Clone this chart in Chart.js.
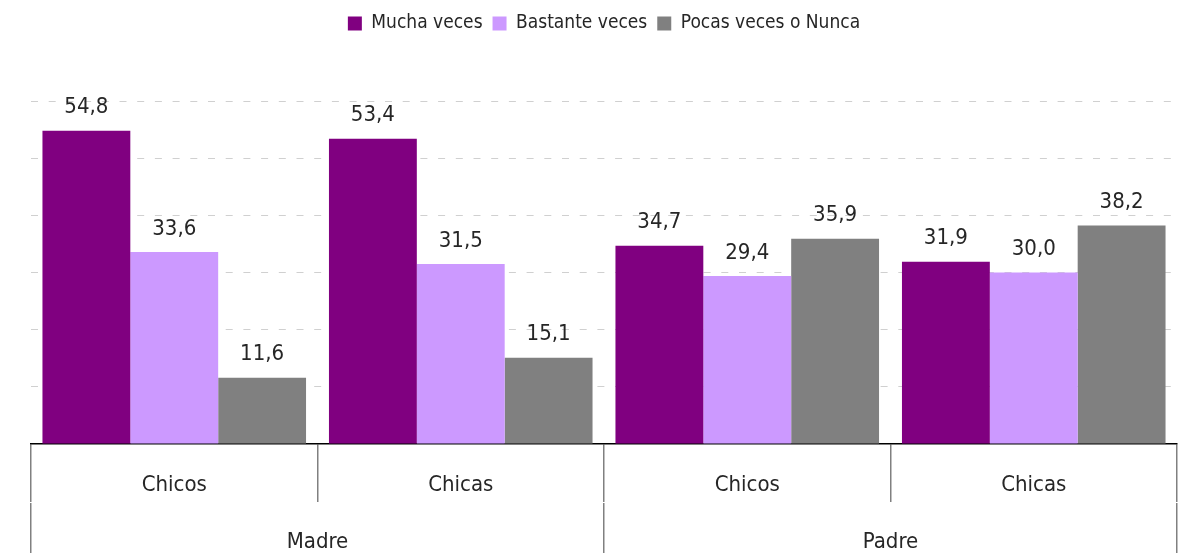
<!DOCTYPE html>
<html>
<head>
<meta charset="utf-8">
<script src="https://cdn.jsdelivr.net/npm/chart.js@4.4.1/dist/chart.umd.min.js"></script>
<style>
  html, body { margin: 0; padding: 0; background: #ffffff; }
  #wrap { width: 1192px; height: 553px; position: relative; }
</style>
</head>
<body>
<div id="wrap"><canvas id="c" width="1192" height="553"></canvas></div>
<script>
const categories = ['Chicos', 'Chicas', 'Chicos', 'Chicas'];
const groups = ['Madre', 'Padre'];
const seriesNames = ['Mucha veces', 'Bastante veces', 'Pocas veces o Nunca'];
const muchaVeces = [54.8, 53.4, 34.7, 31.9];
const bastanteVeces = [33.6, 31.5, 29.4, 30.0];
const pocasVeces = [11.6, 15.1, 35.9, 38.2];
const seriesColors = ['#800080', '#CC99FF', '#808080'];

const catFont = { family: '"DejaVu Sans Condensed", "DejaVu Sans", sans-serif', size: 22 };
const labelFont = '22px "Liberation Sans Narrow", "DejaVu Sans Condensed", sans-serif';

const legendSpace = {
  id: 'legendSpace',
  beforeLayout(chart) {
    const lg = chart.legend;
    if (lg && !lg._patched) {
      const f = lg.fit.bind(lg);
      lg.fit = function () { f(); this.height += 58; };
      lg._patched = true;
    }
  }
};

const valueLabels = {
  id: 'valueLabels',
  afterDatasetsDraw(chart) {
    const ctx = chart.ctx;
    ctx.save();
    ctx.font = labelFont;
    ctx.fillStyle = '#262626';
    ctx.textAlign = 'center';
    ctx.textBaseline = 'middle';
    chart.data.datasets.forEach((ds, i) => {
      chart.getDatasetMeta(i).data.forEach((bar, j) => {
        const txt = ds.data[j].toFixed(1).replace('.', ',');
        ctx.fillText(txt, bar.x, bar.y - 23);
      });
    });
    ctx.restore();
  }
};

new Chart(document.getElementById('c'), {
  type: 'bar',
  data: {
    labels: categories,
    datasets: [
      { label: seriesNames[0], data: muchaVeces, backgroundColor: seriesColors[0] },
      { label: seriesNames[1], data: bastanteVeces, backgroundColor: seriesColors[1] },
      { label: seriesNames[2], data: pocasVeces, backgroundColor: seriesColors[2] }
    ]
  },
  options: {
    responsive: false,
    animation: false,
    devicePixelRatio: 1,
    layout: { padding: { top: 4, left: 31, right: 15, bottom: 0 } },
    datasets: { bar: { categoryPercentage: 0.92, barPercentage: 1.0 } },
    plugins: {
      legend: {
        position: 'top',
        labels: {
          boxWidth: 14, boxHeight: 14, padding: 10,
          color: '#262626',
          font: { family: '"DejaVu Sans Condensed", "DejaVu Sans", sans-serif', size: 19 }
        }
      },
      tooltip: { enabled: false }
    },
    scales: {
      x: {
        type: 'category',
        position: 'bottom',
        offset: true,
        grid: { display: true, offset: true, drawOnChartArea: false, drawTicks: true, tickLength: 58, color: '#808080', lineWidth: 1.5 },
        border: { display: true, color: '#000000', width: 1.5 },
        ticks: { color: '#262626', font: catFont, padding: -30, maxRotation: 0, autoSkip: false },
        afterFit(s) { s.height = 59; }
      },
      x2: {
        type: 'category',
        position: 'bottom',
        labels: groups,
        offset: true,
        grid: { display: true, offset: true, drawOnChartArea: false, drawTicks: true, tickLength: 52, color: '#808080', lineWidth: 1.5 },
        border: { display: false },
        ticks: { color: '#262626', font: catFont, padding: -26, maxRotation: 0, autoSkip: false },
        afterFit(s) { s.height = 50; }
      },
      y: {
        min: 0, max: 60,
        ticks: { display: false, stepSize: 10 },
        grid: {
          color: (c) => (c.tick && c.tick.value === 0 ? 'rgba(0,0,0,0)' : '#d0d0d0'),
          lineWidth: 1, drawTicks: false, tickLength: 0
        },
        border: { display: false, dash: [7, 10.7] },
        afterFit(s) { s.width = 0; }
      }
    }
  },
  plugins: [legendSpace, valueLabels]
});
</script>
</body>
</html>
